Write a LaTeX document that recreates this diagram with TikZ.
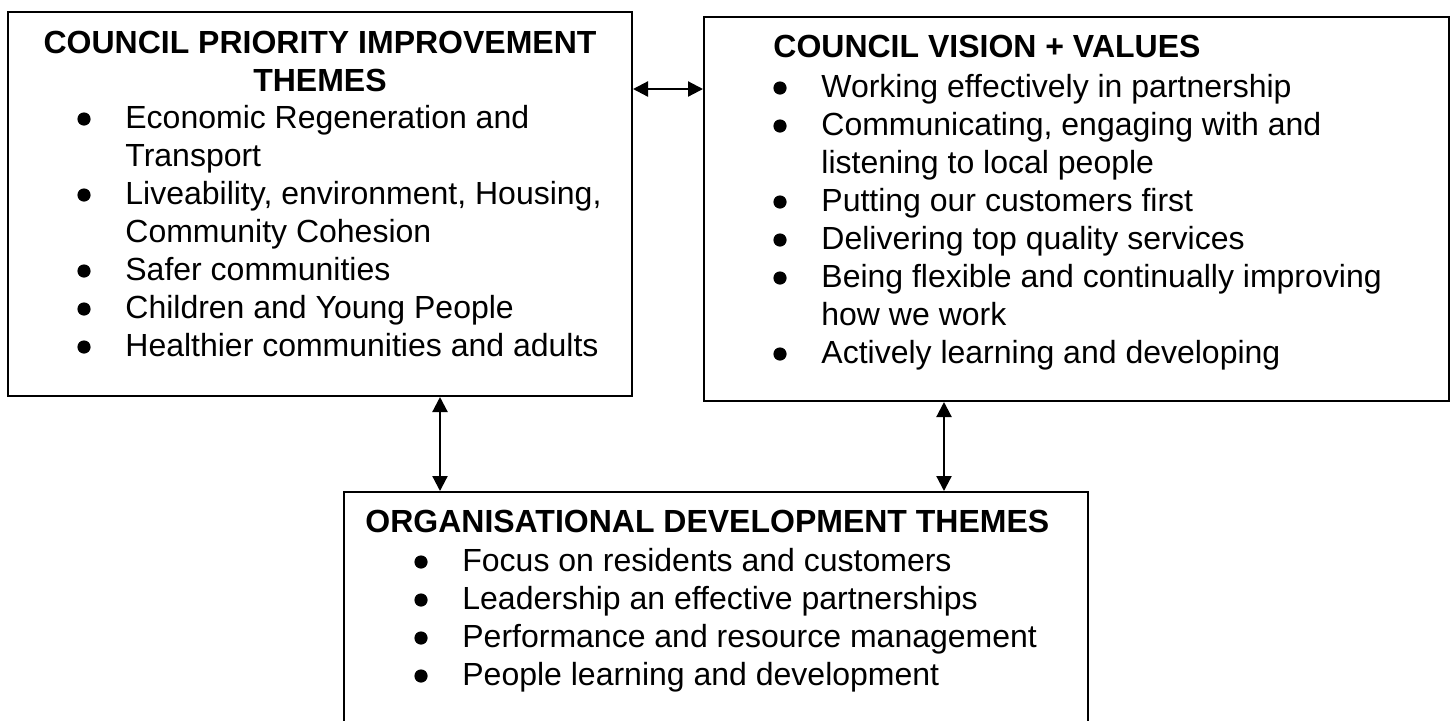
\documentclass[tikz,border=0pt]{standalone}
\usepackage{fontspec}
\setmainfont{Liberation Sans}
\usetikzlibrary{arrows.meta,fit}

\newcommand{\themebullet}{\tikz[baseline=-4.5pt]\fill (0,0) circle (3.3pt);}
\newcommand{\themelist}[1]{\begin{tabular}[t]{@{}l@{\hspace{17.4pt}}l@{}}#1\end{tabular}}

\begin{document}
\begin{tikzpicture}[x=0.5pt,y=-0.5pt]
\useasboundingbox (0,0) rectangle (1456,720);

\begin{scope}[every node/.style={draw,line width=1pt,inner sep=0pt}]
    \node[fit={(8,12) (632,396)}] (priority) {};
	\node[fit={(704,17) (1449,401)}] (vision) {};
	\node[fit={(344,492) (1088,760)}] (org_dev) {};
\end{scope}

\begin{scope}[every node/.style={inner sep=0pt,font=\fontsize{16pt}{19pt}\selectfont}]
    \node[anchor=base] (priority_head) at (320,53)
        {\bfseries\begin{tabular}[t]{@{}c@{}}COUNCIL PRIORITY IMPROVEMENT\\THEMES\end{tabular}};
	\node[anchor=base west] (priority_list) at (77,128) {\themelist{
	    \themebullet & Economic Regeneration and\\
	                 & Transport\\
	    \themebullet & Liveability, environment, Housing,\\
	                 & Community Cohesion\\
	    \themebullet & Safer communities\\
	    \themebullet & Children and Young People\\
	    \themebullet & Healthier communities and adults}};

	\node[anchor=base west] (vision_head) at (773,57) {\bfseries COUNCIL VISION + VALUES};
	\node[anchor=base west] (vision_list) at (773,97) {\themelist{
	    \themebullet & Working effectively in partnership\\
	    \themebullet & Communicating, engaging with and\\
	                 & listening to local people\\
	    \themebullet & Putting our customers first\\
	    \themebullet & Delivering top quality services\\
	    \themebullet & Being flexible and continually improving\\
	                 & how we work\\
	    \themebullet & Actively learning and developing}};

	\node[anchor=base west] (org_dev_head) at (365,532) {\bfseries ORGANISATIONAL DEVELOPMENT THEMES};
	\node[anchor=base west] (org_dev_list) at (414,571) {\themelist{
	    \themebullet & Focus on residents and customers\\
	    \themebullet & Leadership an effective partnerships\\
	    \themebullet & Performance and resource management\\
	    \themebullet & People learning and development}};
\end{scope}

\begin{scope}[>={Triangle[length=7.5pt,width=7.5pt]},
              every edge/.style={draw,line width=1.1pt}]
    \path [<->] (priority.east |- 0,89) edge (vision.west |- 0,89);

    	\path [<->] (priority.south -| 440,0) edge (org_dev.north -| 440,0);
    	\path [<->] (vision.south -| 944,0) edge (org_dev.north -| 944,0);
\end{scope}
\end{tikzpicture}
\end{document}
